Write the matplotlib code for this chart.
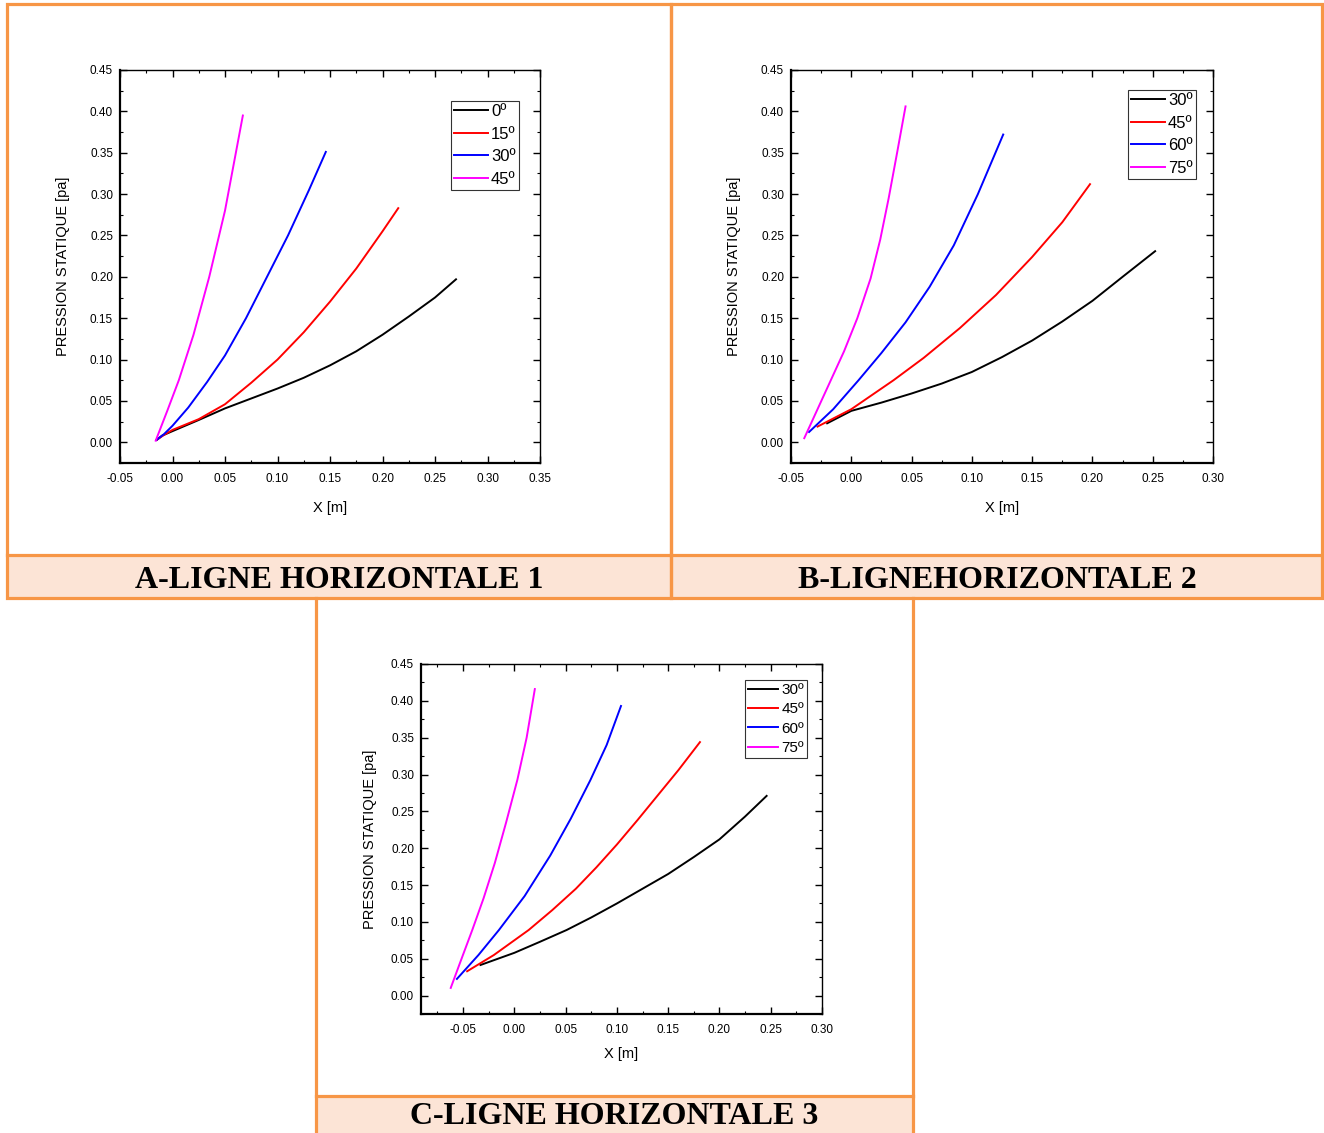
import numpy as np
import matplotlib.pyplot as plt
from matplotlib.patches import Rectangle
from matplotlib.ticker import MultipleLocator

plt.rcParams['font.family'] = ['Liberation Sans', 'DejaVu Sans']

W, H = 1324, 1133

# Ligne horizontale 1
a_labels = ['0º', '15º', '30º', '45º']
a_x = [
    [-0.015, -0.01, 0.0, 0.025, 0.05, 0.075, 0.10, 0.125, 0.15, 0.175, 0.20, 0.225, 0.25, 0.27],
    [-0.015, -0.008, 0.0, 0.025, 0.05, 0.075, 0.10, 0.125, 0.15, 0.175, 0.20, 0.215],
    [-0.015, -0.008, 0.0, 0.015, 0.033, 0.05, 0.07, 0.09, 0.11, 0.13, 0.146],
    [-0.016, -0.005, 0.006, 0.02, 0.035, 0.05, 0.067],
]
a_y = [
    [0.003, 0.008, 0.0135, 0.027, 0.041, 0.053, 0.065, 0.078, 0.093, 0.11, 0.13, 0.152, 0.175, 0.197],
    [0.003, 0.009, 0.015, 0.028, 0.046, 0.072, 0.10, 0.133, 0.17, 0.21, 0.255, 0.283],
    [0.003, 0.01, 0.02, 0.042, 0.073, 0.105, 0.15, 0.20, 0.25, 0.305, 0.351],
    [0.002, 0.038, 0.075, 0.13, 0.20, 0.28, 0.395],
]

# Ligne horizontale 2
b_labels = ['30º', '45º', '60º', '75º']
b_x = [
    [-0.020, 0.0, 0.025, 0.05, 0.075, 0.10, 0.125, 0.15, 0.175, 0.20, 0.225, 0.252],
    [-0.028, 0.0, 0.035, 0.06, 0.09, 0.12, 0.15, 0.175, 0.198],
    [-0.035, -0.015, 0.006, 0.025, 0.045, 0.065, 0.085, 0.105, 0.126],
    [-0.039, -0.028, -0.017, -0.006, 0.005, 0.016, 0.024, 0.031, 0.038, 0.045],
]
b_y = [
    [0.023, 0.038, 0.048, 0.059, 0.071, 0.085, 0.103, 0.123, 0.146, 0.171, 0.20, 0.231],
    [0.019, 0.040, 0.075, 0.102, 0.138, 0.178, 0.224, 0.266, 0.312],
    [0.0125, 0.04, 0.075, 0.108, 0.145, 0.188, 0.238, 0.30, 0.372],
    [0.005, 0.04, 0.075, 0.11, 0.15, 0.198, 0.245, 0.295, 0.35, 0.406],
]

# Ligne horizontale 3
c_labels = ['30º', '45º', '60º', '75º']
c_x = [
    [-0.033, 0.0, 0.025, 0.051, 0.075, 0.10, 0.125, 0.15, 0.175, 0.20, 0.225, 0.246],
    [-0.046, -0.02, 0.014, 0.037, 0.06, 0.08, 0.10, 0.12, 0.14, 0.16, 0.181],
    [-0.056, -0.035, -0.015, 0.01, 0.035, 0.055, 0.074, 0.09, 0.104],
    [-0.062, -0.052, -0.041, -0.03, -0.019, -0.008, 0.003, 0.012, 0.020],
]
c_y = [
    [0.0415, 0.058, 0.073, 0.089, 0.106, 0.125, 0.145, 0.165, 0.188, 0.212, 0.243, 0.271],
    [0.033, 0.055, 0.089, 0.116, 0.145, 0.174, 0.205, 0.238, 0.272, 0.306, 0.344],
    [0.0226, 0.055, 0.089, 0.135, 0.19, 0.24, 0.292, 0.34, 0.393],
    [0.0104, 0.048, 0.089, 0.132, 0.18, 0.235, 0.293, 0.35, 0.416],
]

titles = ['A-LIGNE HORIZONTALE 1', 'B-LIGNEHORIZONTALE 2', 'C-LIGNE HORIZONTALE 3']
colors = ['black', 'red', 'blue', 'magenta']

ORANGE = '#f79646'
PEACH = '#fce4d6'

fig = plt.figure(figsize=(W / 100, H / 100), dpi=100)


def px_axes(x0, y0, x1, y1):
    return fig.add_axes([x0 / W, 1 - y1 / H, (x1 - x0) / W, (y1 - y0) / H])


def px_rect(x0, y0, x1, y1, **kw):
    fig.patches.append(Rectangle((x0 / W, 1 - y1 / H), (x1 - x0) / W, (y1 - y0) / H,
                                 transform=fig.transFigure, **kw))


def px_line(xs, ys, lw=2.3):
    fig.add_artist(plt.Line2D([x / W for x in xs], [1 - y / H for y in ys],
                              color=ORANGE, lw=lw, transform=fig.transFigure))


def draw_panel(ax, xs, ys, labels, xlim, xticks, legend_loc,
               xpad=12, ypad=14, leg_size=12, leg_space=0.45):
    for x, y, lab, c in zip(xs, ys, labels, colors):
        ax.plot(x, y, color=c, lw=1.4, label=lab)
    ax.set_xlim(*xlim)
    ax.set_ylim(-0.025, 0.45)
    yt = np.arange(0, 0.451, 0.05)
    ax.set_xticks(xticks)
    ax.set_xticklabels([f'{t:.2f}' for t in xticks])
    ax.set_yticks(yt)
    ax.set_yticklabels([f'{t:.2f}' for t in yt])
    ax.xaxis.set_minor_locator(MultipleLocator(0.025))
    ax.yaxis.set_minor_locator(MultipleLocator(0.025))
    ax.tick_params(which='both', direction='in', top=True, right=True, labelsize=8.5)
    ax.tick_params(which='major', length=5, width=1)
    ax.tick_params(axis='x', which='major', pad=7)
    ax.tick_params(axis='y', which='major', pad=5)
    ax.tick_params(which='minor', length=2.5, width=0.8)
    ax.spines['left'].set_linewidth(1.6)
    ax.spines['bottom'].set_linewidth(1.6)
    ax.spines['top'].set_linewidth(1.0)
    ax.spines['right'].set_linewidth(1.0)
    ax.set_xlabel('X [m]', fontsize=10.5, labelpad=xpad)
    ax.set_ylabel('PRESSION STATIQUE [pa]', fontsize=10.5, labelpad=ypad)
    leg = ax.legend(loc='upper right', bbox_to_anchor=legend_loc, fontsize=leg_size,
                    frameon=True, fancybox=False, handlelength=2.0, handletextpad=0.2,
                    labelspacing=leg_space, borderpad=0.2, borderaxespad=0)
    leg.get_frame().set_edgecolor('black')
    leg.get_frame().set_linewidth(0.8)


ax_a = px_axes(120, 70, 540, 463)
draw_panel(ax_a, a_x, a_y, a_labels, (-0.05, 0.35), np.arange(-0.05, 0.351, 0.05),
           ((519 - 120) / 420, 1 - (101 - 70) / 393))

ax_b = px_axes(791, 70, 1213, 463)
draw_panel(ax_b, b_x, b_y, b_labels, (-0.05, 0.30), np.arange(-0.05, 0.301, 0.05),
           ((1196 - 791) / 422, 1 - (90 - 70) / 393))

ax_c = px_axes(421, 664, 822, 1014)
draw_panel(ax_c, c_x, c_y, c_labels, (-0.091, 0.30), np.arange(-0.05, 0.301, 0.05),
           ((807 - 421) / 401, 1 - (680 - 664) / 350),
           xpad=8, ypad=10, leg_size=11, leg_space=0.35)

# orange frames and caption bands
px_rect(8, 556, 670, 597, facecolor=PEACH, edgecolor='none', zorder=0)
px_rect(672, 556, 1322, 597, facecolor=PEACH, edgecolor='none', zorder=0)
px_rect(317, 1097, 912, 1133, facecolor=PEACH, edgecolor='none', zorder=0)

for x0, x1 in [(7, 671), (671, 1322)]:
    px_rect(x0, 4, x1, 598, facecolor='none', edgecolor=ORANGE, lw=2.3)
    px_line([x0, x1], [555, 555])
for xx in (316, 913):
    px_line([xx, xx], [598, H + 5])
px_line([316, 913], [1096, 1096])

for (cx, cy), t in zip([(339, 580), (997, 580), (614, 1117)], titles):
    fig.text(cx / W, 1 - cy / H, t, ha='center', va='center', fontsize=23,
             fontweight='bold', family='Liberation Serif')

fig.savefig('out.png', dpi=100)
